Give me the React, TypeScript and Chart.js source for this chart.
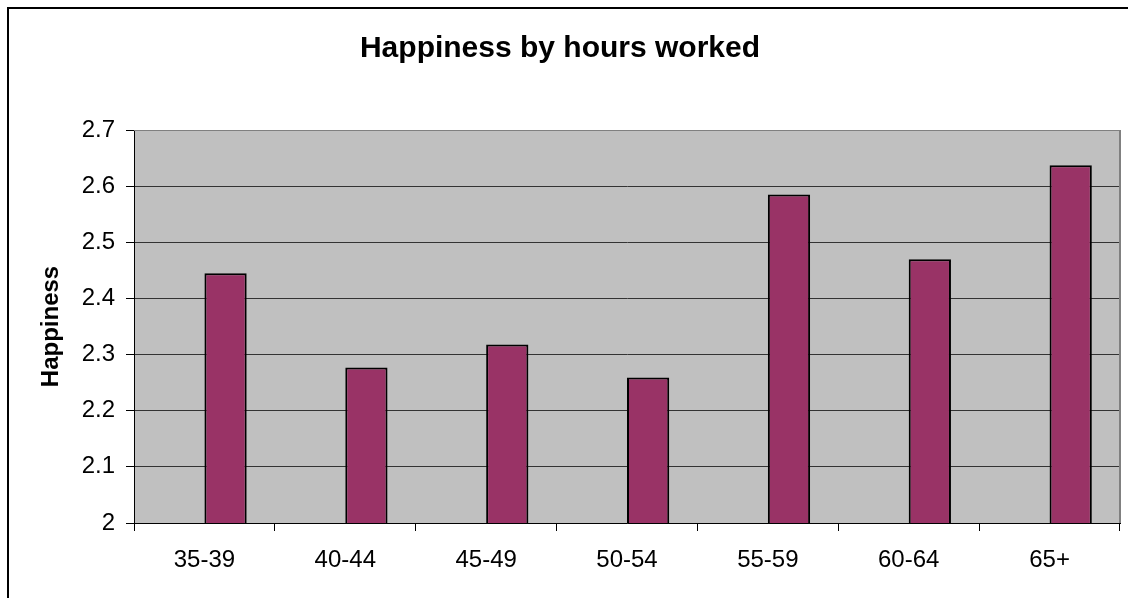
import React, { useEffect, useRef } from "react";
import { Chart, registerables } from "chart.js";

Chart.register(...registerables);

const chartTitle = "Happiness by hours worked";
const yAxisTitle = "Happiness";
const categories = ["35-39", "40-44", "45-49", "50-54", "55-59", "60-64", "65+"];
// Excel clustered layout: an empty first series leaves the visible bar right of centre
const emptySeries = [null, null, null, null, null, null, null];
const happiness = [2.445, 2.277, 2.318, 2.259, 2.585, 2.47, 2.637];
const yMin = 2;
const yMax = 2.7;
const yStep = 0.1;

const FONT = '"Liberation Sans", Arial, Helvetica, sans-serif';

export default function App() {
  const ref = useRef<HTMLCanvasElement>(null);

  useEffect(() => {
    const canvas = ref.current;
    if (!canvas) return;

    const plotFrame = {
      id: "plotFrame",
      beforeDraw(chart: any) {
        const { ctx, chartArea } = chart;
        const { left, top, right, bottom } = chartArea;
        ctx.save();
        ctx.fillStyle = "#C0C0C0";
        ctx.fillRect(left, top, right - left, bottom - top);
        ctx.restore();
      },
      afterDraw(chart: any) {
        const { ctx, chartArea } = chart;
        const { left, top, right, bottom } = chartArea;
        ctx.save();
        ctx.fillStyle = "#808080";
        ctx.fillRect(left, top, right - left, 1);
        ctx.fillRect(right - 1, top, 2, bottom - top);
        ctx.restore();
      },
    };

    const chart = new Chart(canvas, {
      type: "bar",
      data: {
        labels: categories,
        datasets: [
          {
            label: "",
            data: emptySeries as any,
            backgroundColor: "rgba(0,0,0,0)",
            borderWidth: 0,
            barPercentage: 1,
            categoryPercentage: 0.6,
          },
          {
            label: yAxisTitle,
            data: happiness,
            backgroundColor: "#993366",
            borderColor: "#000000",
            borderWidth: 2,
            barPercentage: 1,
            categoryPercentage: 0.6,
          },
        ],
      },
      options: {
        responsive: false,
        animation: false,
        devicePixelRatio: 1,
        layout: { padding: { left: 0, right: 8, top: 0, bottom: 0 } },
        plugins: {
          legend: { display: false },
          tooltip: { enabled: false },
          title: {
            display: true,
            text: chartTitle,
            color: "#000000",
            font: { family: FONT, size: 30, weight: "bold" },
            padding: { top: 31, bottom: 63 },
          },
        },
        scales: {
          x: {
            type: "category",
            offset: true,
            grid: {
              display: true,
              offset: true,
              drawOnChartArea: false,
              drawTicks: true,
              tickLength: 8,
              tickColor: "#000000",
              color: "#000000",
            },
            border: { display: true, color: "#000000", width: 1 },
            ticks: {
              color: "#000000",
              font: { family: FONT, size: 24 },
              padding: 15,
              maxRotation: 0,
              autoSkip: false,
            },
            afterFit(scale: any) {
              scale.height = 75;
            },
          },
          y: {
            min: yMin,
            max: yMax,
            grid: {
              display: true,
              drawOnChartArea: true,
              drawTicks: true,
              tickLength: 8,
              color: "#333333",
              tickColor: "#000000",
            },
            border: { display: true, color: "#000000", width: 1 },
            ticks: {
              stepSize: yStep,
              color: "#000000",
              font: { family: FONT, size: 24 },
              padding: 11,
              callback: (v: any) => String(Number(Number(v).toFixed(1))),
            },
            title: {
              display: true,
              text: yAxisTitle,
              color: "#000000",
              font: { family: FONT, size: 24, weight: "bold" },
              padding: { top: 37, bottom: 0 },
            },
            afterFit(scale: any) {
              scale.width = 134;
            },
          },
        },
      },
      plugins: [plotFrame],
    });

    return () => {
      chart.destroy();
    };
  }, []);

  return (
    <>
      <canvas
        ref={ref}
        width={1128}
        height={598}
        style={{ position: "fixed", left: 0, top: 0, width: 1128, height: 598 }}
      />
      <div
        style={{
          position: "fixed",
          left: 7,
          top: 7,
          width: 2000,
          height: 2000,
          border: "2px solid #000000",
          pointerEvents: "none",
        }}
      />
    </>
  );
}
